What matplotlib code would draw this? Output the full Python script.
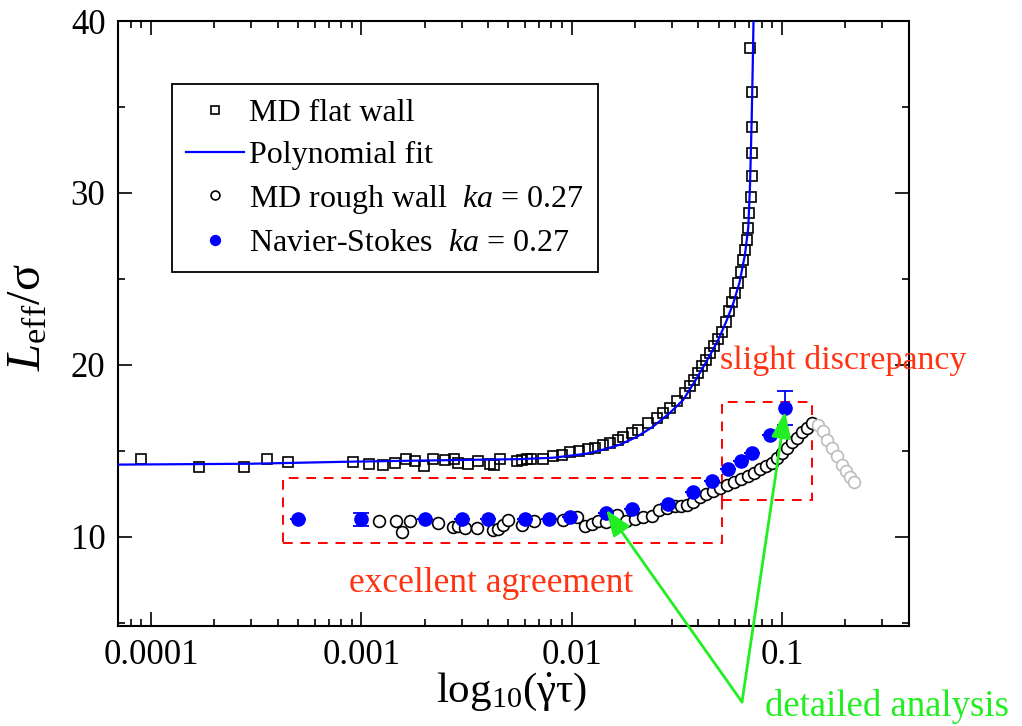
import matplotlib
matplotlib.use("Agg")
import matplotlib.pyplot as plt
from matplotlib.patches import Rectangle
from matplotlib.ticker import FixedLocator, MultipleLocator, LogLocator, NullFormatter

plt.rcParams['font.family'] = ['Liberation Serif', 'DejaVu Serif']
plt.rcParams['mathtext.fontset'] = 'custom'
plt.rcParams['mathtext.rm'] = 'Liberation Serif'
plt.rcParams['mathtext.it'] = 'Liberation Serif:italic'

# MD flat wall (open squares)
flat_x = [8.95e-5, 1.69e-4, 2.77e-4, 3.56e-4, 4.48e-4,
          9.10e-4, 1.09e-3, 1.27e-3, 1.45e-3, 1.63e-3, 1.80e-3, 1.99e-3, 2.19e-3,
          2.50e-3, 2.76e-3, 2.88e-3, 3.21e-3, 3.59e-3, 4.09e-3, 4.28e-3, 4.57e-3,
          5.50e-3, 5.79e-3, 6.14e-3, 6.40e-3, 7.29e-3, 8.13e-3, 8.97e-3, 9.82e-3,
          0.01089, 0.01202, 0.01291, 0.01416, 0.01524, 0.01667, 0.01762, 0.01932,
          0.02075, 0.02317, 0.02541, 0.02729, 0.02938, 0.03162, 0.03459, 0.03656,
          0.0382, 0.0399, 0.0417, 0.0436, 0.0455, 0.0475, 0.0496, 0.0518, 0.0543,
          0.0561, 0.0577, 0.0598, 0.0620, 0.0637, 0.0655, 0.0667, 0.0680, 0.0692,
          0.0700, 0.0711, 0.0718, 0.0720, 0.0723, 0.0718, 0.0705]
flat_y = [14.53, 14.07, 14.07, 14.53, 14.36,
          14.32, 14.24, 14.19, 14.30, 14.53, 14.42, 14.13, 14.53,
          14.48, 14.53, 14.30, 14.24, 14.42, 14.24, 14.19, 14.53,
          14.42, 14.48, 14.53, 14.52, 14.52, 14.71, 14.77, 14.90,
          14.96, 15.10, 15.16, 15.35, 15.45, 15.64, 15.80, 16.03,
          16.22, 16.61, 16.90, 17.19, 17.48, 17.87, 18.35, 18.74,
          19.1, 19.5, 19.9, 20.3, 20.7, 21.1, 21.5, 21.9, 22.5,
          23.1, 23.68, 24.17, 24.75, 25.42, 26.10, 26.69, 27.27, 27.95,
          28.82, 29.78, 30.99, 32.31, 33.85, 35.89, 38.41]

# polynomial fit (blue line)
fit_x = [6.97e-5, 2.96e-4, 8.83e-4, 2.64e-3, 5.69e-3, 8.17e-3, 0.01183, 0.01409,
         0.01698, 0.02046, 0.02438, 0.02938, 0.0339, 0.0382, 0.0436, 0.0496,
         0.0543, 0.0588, 0.0629, 0.0667, 0.0692, 0.0705, 0.0718, 0.0728, 0.0735]
fit_y = [14.19, 14.24, 14.36, 14.45, 14.51, 14.59, 14.83, 15.06,
         15.35, 15.81, 16.40, 17.21, 17.95, 18.95, 20.15, 21.4,
         22.5, 23.6, 24.8, 26.4, 28.0, 30.4, 34.2, 38.0, 41.0]

# MD rough wall ka = 0.27 (open circles)
rough_x = [0.00122, 0.00146, 0.00156, 0.00171, 0.00232, 0.00272, 0.00289, 0.00311,
           0.00354, 0.00425, 0.00449, 0.00473, 0.00500, 0.00579, 0.00662, 0.00908,
           0.01064, 0.01159, 0.01247, 0.01340, 0.01459, 0.01637, 0.01816, 0.0200,
           0.0219, 0.0240, 0.0261, 0.0283, 0.0310, 0.0333, 0.0355, 0.0379,
           0.0408, 0.0436, 0.0470, 0.0508, 0.0548, 0.0592, 0.0640, 0.0690,
           0.0738, 0.0787, 0.0841, 0.0893, 0.0944, 0.0998, 0.1054, 0.1114,
           0.1175, 0.1242, 0.1312, 0.1387]
rough_y = [10.93, 10.93, 10.25, 10.89, 10.80, 10.54, 10.64, 10.51,
           10.51, 10.41, 10.45, 10.70, 10.99, 10.70, 10.89, 10.99,
           11.15, 10.60, 10.76, 10.89, 10.83, 11.28, 10.89, 11.03,
           11.15, 11.22, 11.53, 11.67, 11.76, 11.80, 11.86, 11.99,
           12.33, 12.50, 12.67, 12.85, 13.02, 13.20, 13.37, 13.55,
           13.72, 13.95, 14.13, 14.28, 14.58, 14.87, 15.16, 15.48,
           15.74, 16.06, 16.32, 16.61]

# rough wall beyond the peak (light grey circles)
grey_x = [0.149, 0.157, 0.164, 0.173, 0.182, 0.192, 0.202, 0.211, 0.219]
grey_y = [16.51, 16.12, 15.64, 15.16, 14.67, 14.19, 13.80, 13.47, 13.16]

# Navier-Stokes ka = 0.27 (filled blue circles)
ns_x = [0.0005, 0.001, 0.002, 0.003, 0.004, 0.006, 0.0078, 0.0098, 0.0146,
        0.0193, 0.0286, 0.0377, 0.0463, 0.0552, 0.0637, 0.0718, 0.0878, 0.1035]
ns_y = [11.0, 11.0, 11.0, 11.0, 11.0, 11.0, 11.03, 11.15, 11.38,
        11.61, 11.92, 12.58, 13.22, 13.94, 14.38, 14.87, 15.93, 17.48]
ns_err = [0, 0.4, 0, 0, 0, 0, 0, 0, 0, 0, 0, 0, 0, 0, 0, 0, 0, 1.0]

# dashed boxes: (x0, x1, y0, y1)
box_agree = (4.25e-4, 0.0519, 9.65, 13.43)
box_discr = (0.0519, 0.1386, 12.11, 17.81)

# arrow tips (data)
tip_agree = (0.01459, 11.57)
tip_discr = (0.1035, 17.28)

xtick_vals = [0.0001, 0.001, 0.01, 0.1]
xtick_labels = ['0.0001', '0.001', '0.01', '0.1']
ytick_vals = [10, 20, 30, 40]

fig = plt.figure(figsize=(10.22, 7.26), dpi=100)
ax = fig.add_axes([118 / 1022, 1 - 626 / 726, 791 / 1022, 605 / 726])

blue = '#0000ff'
ax.plot(flat_x, flat_y, ls='none', marker='s', ms=7.5, mfc='none', mec='black',
        mew=1.2, label='MD flat wall', zorder=3)
ax.plot(fit_x, fit_y, color=blue, lw=1.6, label='Polynomial fit', zorder=4)
ax.plot(rough_x, rough_y, ls='none', marker='o', ms=8.5, mfc='white', mec='black',
        mew=1.2, label=r'MD rough wall  $ka$ = 0.27', zorder=3)
ax.plot(grey_x, grey_y, ls='none', marker='o', ms=8.5, mfc='white', mec='#bdbdbd',
        mew=1.2, zorder=3)
ax.errorbar(ns_x, ns_y, yerr=ns_err, fmt='none', ecolor=blue, elinewidth=1.3,
            capsize=6, capthick=1.3, zorder=5)
ax.plot(ns_x, ns_y, ls='none', marker='o', ms=9.5, color=blue,
        label=r'Navier-Stokes  $ka$ = 0.27', zorder=5)

ax.set_xscale('log')
ax.set_xlim(6.97e-5, 0.402)
ax.set_ylim(4.8, 40)

ax.xaxis.set_major_locator(FixedLocator(xtick_vals))
ax.set_xticklabels(xtick_labels)
ax.xaxis.set_minor_locator(LogLocator(base=10, subs=range(2, 10), numticks=20))
ax.xaxis.set_minor_formatter(NullFormatter())
ax.set_yticks(ytick_vals)
ax.yaxis.set_minor_locator(MultipleLocator(5))

ax.tick_params(which='both', direction='in', top=True, right=True, width=1.2)
ax.tick_params(which='major', length=10, labelsize=25, pad=9)
ax.tick_params(which='minor', length=5)
for s in ax.spines.values():
    s.set_linewidth(1.5)

ax.set_xlabel(r'$\mathrm{log}_{10}(\dot{\mathrm{\gamma}}\mathrm{\tau})$', fontsize=31)
ax.xaxis.set_label_coords(0.498, -0.075)
ax.set_ylabel(r'$L_{\mathrm{eff}}/\mathrm{\sigma}$', fontsize=35)
ax.yaxis.set_label_coords(-0.085, 0.51)

red = '#ff0000'
for b in (box_agree, box_discr):
    ax.add_patch(Rectangle((b[0], b[2]), b[1] - b[0], b[3] - b[2], fill=False,
                           edgecolor=red, lw=1.4, ls=(0, (5, 4)), zorder=2,
                           clip_on=False))

leg = ax.legend(loc='upper left', bbox_to_anchor=(172 / 1022, 1 - 84 / 726),
                bbox_transform=fig.transFigure, borderaxespad=0, fontsize=23,
                fancybox=False, framealpha=1, edgecolor='black', handlelength=1.8,
                handletextpad=0.15, labelspacing=0.4, borderpad=0.45,
                markerscale=0.75)
leg.get_frame().set_linewidth(1.3)

orange = '#ff3311'
green = '#22ee22'
fig.text(843 / 1022, 1 - 360 / 726, 'slight discrepancy', color=orange, fontsize=24.5,
         ha='center', va='center')
fig.text(491 / 1022, 1 - 583 / 726, 'excellent agreement', color=orange, fontsize=25.5,
         ha='center', va='center')
fig.text(887 / 1022, 1 - 706 / 726, 'detailed analysis', color=green, fontsize=26.5,
         ha='center', va='center')

tail = (742 / 1022, 1 - 702 / 726)
for tip in (tip_agree, tip_discr):
    ax.annotate('', xy=tip, xycoords='data', xytext=tail, textcoords='figure fraction',
                arrowprops=dict(arrowstyle='-|>,head_length=0.8,head_width=0.3',
                                color=green, lw=2, mutation_scale=20,
                                shrinkA=0, shrinkB=0),
                annotation_clip=False, zorder=6)

fig.savefig('out.png', dpi=100)
